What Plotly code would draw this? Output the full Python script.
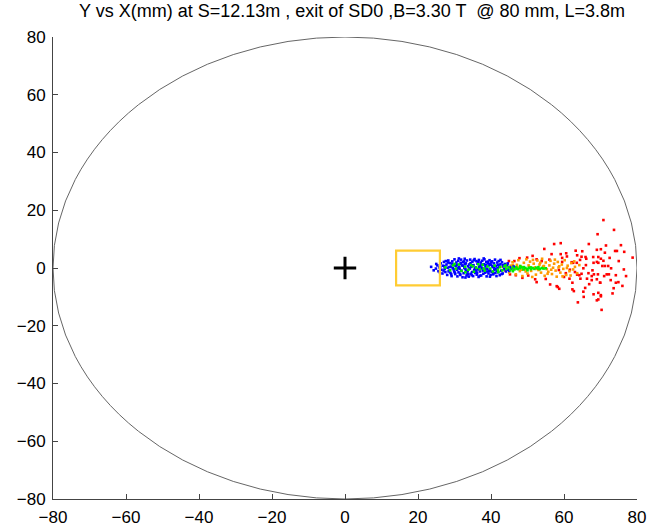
import plotly.graph_objects as go

title_text = "Y vs X(mm) at S=12.13m , exit of SD0 ,B=3.30 T  @ 80 mm, L=3.8m"
tick_vals = [-80, -60, -40, -20, 0, 20, 40, 60, 80]
axis_range = [-80, 80]
circle_radius = 80
box_x = [14, 26]
box_y = [-6, 6]
center_pt = (0, 0)

blue_pts = [(23.6,0.4),(24.9,-0.2),(25.3,0.9),(25.6,-1.1),(25.9,0.2),(26.2,1.6),(26.4,-0.6),(26.7,-1.9),(26.9,0.8),(27.1,2.1),(27.3,-0.3),(27.5,-1.4),(27.8,1.2),(28.0,-2.4),(28.1,0.1),(28.3,2.6),(28.5,-0.9),(28.7,1.7),(28.9,-1.7),(29.0,0.5),(29.2,-2.8),(29.4,2.3),(29.5,-0.1),(29.7,1.0),(29.9,-1.2),(30.0,3.0),(30.2,-2.1),(30.3,0.7),(30.5,1.9),(30.7,-0.6),(30.8,-2.9),(31.0,2.5),(31.1,-1.5),(31.3,0.3),(31.5,1.4),(31.6,-2.4),(31.8,2.9),(31.9,-0.9),(32.1,0.9),(32.2,-3.2),(32.4,2.0),(32.5,-1.8),(32.7,0.0),(32.8,3.2),(33.0,-0.4),(33.1,1.6),(33.3,-2.6),(33.4,2.6),(33.6,-1.1),(33.7,0.6),(33.9,-3.0),(34.0,1.2),(34.2,-0.2),(34.3,2.9),(34.5,-2.0),(34.6,0.4),(34.8,-1.4),(34.9,2.2),(35.1,-2.8),(35.2,1.0),(35.4,-0.7),(35.5,3.1),(35.7,-1.7),(35.8,0.2),(36.0,2.4),(36.1,-2.3),(36.3,1.5),(36.4,-0.5),(36.6,-3.1),(36.7,2.8),(36.9,0.8),(37.0,-1.2),(37.2,1.9),(37.3,-2.6),(37.5,0.1),(37.6,2.5),(37.8,-0.9),(37.9,-2.0),(38.1,1.3),(38.2,3.0),(38.4,-1.6),(38.5,0.5),(38.7,2.1),(38.8,-2.9),(39.0,-0.3),(39.1,1.7),(39.3,-1.9),(39.4,0.9),(39.6,2.7),(39.7,-0.8),(39.9,-2.4),(40.0,1.1),(40.2,-1.3),(40.3,2.3),(40.5,0.3),(40.6,-2.2),(40.8,1.6),(40.9,-0.6),(41.1,2.9),(41.2,-1.7),(41.4,0.7),(41.5,-2.8),(41.7,1.9),(41.8,-0.1),(42.0,-1.5),(42.1,2.4),(42.3,0.4),(42.4,-2.5),(42.6,1.3),(42.8,-0.9),(43.0,2.0),(43.2,-1.9),(43.4,0.6),(43.6,-0.4),(43.8,1.4),(44.1,-1.2),(44.4,0.9),(44.7,-0.6),(45.1,0.3),(45.6,-0.2),(46.2,0.5),
    (27.2,0.6),(28.6,0.3),(29.8,-0.5),(30.6,1.1),(31.4,-0.3),(32.3,0.8),(33.2,-1.0),(34.1,0.0),(35.0,0.9),(35.9,-0.9),(36.8,0.4),(37.7,-0.3),(38.6,1.0),(39.5,-1.1),(40.4,0.6),(41.3,-0.4),(42.2,0.9),(30.1,-1.6),(31.7,1.8),(33.5,-1.9),(34.4,1.7),(36.2,-1.6),(37.4,1.2),(38.9,-1.2),(40.1,2.0),(41.6,-1.0),(28.4,-1.2),(29.3,1.5),(32.6,2.3),(34.7,-2.5),(36.5,2.1),(39.2,2.2),(40.7,-1.8),
    (24.3,-0.8),(25.0,1.4),(26.0,-1.5),(27.0,-0.9),(28.2,1.9),(29.1,-2.2),(30.9,0.1),(31.5,-2.0),(32.9,1.3),(33.8,-2.2),(35.3,2.7),(35.6,-0.2),(36.9,-2.7),(37.1,0.6),(38.3,-0.5),(39.8,1.4),(40.9,0.2),(41.9,1.1),(42.9,-2.1),(43.3,1.0),(44.0,-0.3),(45.0,-1.0),(26.1,0.5),(27.6,2.4),(31.2,3.3),(33.0,-3.3),(38.0,3.3),(39.7,-3.0),(42.6,2.8),(44.6,1.6)]

green_pts = [(27.5,0.2),(28.8,-0.8),(29.6,0.9),(30.4,-0.2),(31.2,1.2),(31.9,-1.0),(32.9,0.4),(33.8,-0.6),(34.5,1.0),(35.3,-1.3),(36.0,0.1),(36.9,-0.4),(37.7,1.1),(38.3,-0.9),(39.0,0.5),(39.8,-0.2),(40.5,-1.2),(41.0,0.8),(41.9,-0.6),(42.5,0.3),(43.1,-0.8),(43.7,0.6),(44.2,-0.3),(44.8,0.2),(45.3,-0.7),(45.9,0.1),(46.4,-0.5),(46.9,0.3),(47.4,-0.4),(47.9,-0.1),(48.4,0.2),(48.9,-0.5),(49.4,0.0),(49.9,-0.3),(50.4,0.1),(50.9,-0.4),(51.4,-0.1),(51.9,-0.3),(52.4,0.1),(52.9,-0.2),(53.4,-0.4),(53.9,0.0),(54.4,-0.2),(55.0,-0.1),(44.0,0.9),(46.0,-1.1),(48.0,0.7),(50.0,-0.8),(35.0,0.6),(38.0,-0.2),(42.0,-1.4),(33.0,-1.5),(30.0,1.4),(47.0,-0.2),(49.0,0.3),(51.0,0.2),(53.0,0.3),(36.5,1.3)]

orange_pts = [(43.2,0.4),(43.9,-0.9),(44.5,1.4),(45.0,-1.6),(45.4,0.8),(45.9,2.0),(46.3,-0.3),(46.8,-2.2),(47.1,1.1),(47.5,2.7),(47.9,-1.1),(48.2,0.5),(48.6,-2.8),(49.0,1.8),(49.3,-0.5),(49.7,3.0),(50.0,-1.9),(50.3,0.9),(50.7,2.2),(51.0,-1.0),(51.3,-3.1),(51.7,1.5),(52.0,0.2),(52.3,-2.3),(52.7,2.6),(53.0,-0.7),(53.3,1.2),(53.7,-1.6),(54.0,3.2),(54.3,0.5),(54.7,-2.7),(55.0,1.9),(55.3,-0.4),(55.7,-1.3),(56.0,0.9),(56.3,2.5),(56.7,-2.1),(57.0,0.1),(57.3,1.5),(57.7,-0.9),(58.0,-3.0),(58.3,2.1),(58.7,0.6),(59.0,-1.6),(59.4,1.2),(59.8,-0.3),(60.2,2.7),(60.6,-2.4),(61.0,0.8),(61.5,-1.1),(62.0,1.7),(62.5,-0.5),(63.0,0.4),(63.6,-1.8),(64.2,1.0),(48.4,-0.6),(50.5,0.3),(52.5,-0.3),(54.5,0.7),(56.5,-0.6),(58.5,0.2),(55.5,-2.0),(51.5,2.8),(47.3,0.2),(49.5,-1.2),(53.5,1.8),(57.5,2.9),(59.6,-2.9),(46.0,1.0),(44.0,-0.2),(60.8,0.0),(62.8,2.3),(61.8,-2.6)]

red_pts = [(70.8,16.6),(73.7,13.2),(69.2,11.7),(71.5,7.8),(75.6,7.9),(69.0,6.3),(71.2,5.3),(74.0,5.9),(74.5,5.9),(76.5,5.6),(78.8,3.6),(70.1,3.2),(75.0,2.4),(69.0,2.1),(71.2,0.7),(72.1,0.7),(72.9,-0.1),(76.4,-0.5),(69.3,-2.2),(71.7,-2.2),(72.3,-2.2),(74.2,-2.5),(77.0,-2.8),(72.8,-4.2),(74.9,-4.9),(69.9,-5.1),(74.2,-5.1),(73.3,-8.8),(70.1,-9.4),(69.0,-11.2),(70.3,-14.5),
    (59.1,8.6),(66.8,8.3),(70.1,6.5),(63.2,6.0),(65.0,5.8),(60.6,5.1),(59.1,4.8),(63.6,4.4),(64.8,3.9),(65.9,3.8),(68.0,3.8),(69.4,3.8),(59.5,3.5),(66.1,3.2),(64.4,2.8),(70.8,2.5),(59.5,2.1),(62.1,2.0),(62.5,1.8),(63.5,1.8),(68.1,1.8),(69.4,1.8),(70.5,0.7),(65.3,-0.1),(58.6,-0.7),(61.6,-0.6),(63.0,-1.4),(64.8,-2.0),(66.7,-1.8),(68.2,-2.2),(63.6,-2.3),(64.2,-2.5),(67.6,-2.8),(60.0,-3.1),(61.5,-3.7),(64.5,-3.7),(66.3,-3.7),(67.6,-4.2),(69.0,-3.9),(71.0,-2.8),(62.3,-5.1),(69.9,-5.1),(58.3,-6.6),(58.7,-7.2),(62.3,-7.4),(62.7,-8.0),(65.8,-6.9),(68.1,-9.1),(69.4,-8.6),(65.3,-8.2),(65.4,-10.0),(70.1,-9.8),(63.8,-11.9),(69.4,-10.9),
    (54.6,6.6),(56.6,4.8),(51.4,4.2),(49.9,3.6),(47.8,3.4),(46.4,2.4),(44.9,2.4),(52.5,3.0),(53.9,2.4),(45.2,-2.2),(46.8,-2.5),(48.6,-3.4),(52.1,-3.9),(52.5,-4.9),(56.2,-5.7),(58.0,-6.3),(57.3,8.3),(55.0,-3.8),(50.2,-2.6),(60.5,-1.8),(66.0,1.0),(67.8,-0.8),(72.5,3.5),(73.6,-7.0),(76.0,-6.2),(60.8,4.0),(56.0,2.9),(66.9,-5.6)]

fig = go.Figure()


def add_pts(pts, color):
    fig.add_trace(go.Scatter(
        x=[p[0] for p in pts], y=[p[1] for p in pts], mode="markers",
        marker=dict(symbol="square", size=2.6, color=color, line=dict(width=0)),
        showlegend=False, hoverinfo="skip"))


add_pts(red_pts, "#FF0000")
add_pts(orange_pts, "#FF9900")
add_pts(blue_pts, "#0000FF")
add_pts(green_pts, "#00EE00")

fig.add_trace(go.Scatter(
    x=[center_pt[0]], y=[center_pt[1]], mode="markers",
    marker=dict(symbol="cross-thin", size=16, line=dict(width=3, color="black")),
    showlegend=False, hoverinfo="skip"))

fig.add_shape(type="circle", xref="x", yref="y",
              x0=-circle_radius, y0=-circle_radius, x1=circle_radius, y1=circle_radius,
              line=dict(color="#666666", width=1), layer="below")
fig.add_shape(type="rect", xref="x", yref="y",
              x0=box_x[0], x1=box_x[1], y0=box_y[0], y1=box_y[1],
              line=dict(color="#FFCC33", width=2.2))

axis_common = dict(range=axis_range, tickvals=tick_vals, ticks="inside", ticklen=5,
                   tickcolor="#444444", showline=True, linecolor="#444444", linewidth=1,
                   showgrid=False, zeroline=False, ticklabelstandoff=3, automargin=False,
                   tickfont=dict(family="Liberation Sans, Arial", size=17, color="black"))

fig.update_layout(
    width=656, height=527,
    margin=dict(l=53, r=19, t=37, b=28, autoexpand=False),
    paper_bgcolor="white", plot_bgcolor="white",
    title=dict(text=title_text, x=0.512, xanchor="center", xref="paper", y=0.992, yanchor="top",
               font=dict(family="Liberation Sans, Arial", size=18, color="black")),
    xaxis=dict(**axis_common),
    yaxis=dict(**axis_common),
)

fig.write_html("out.html")
